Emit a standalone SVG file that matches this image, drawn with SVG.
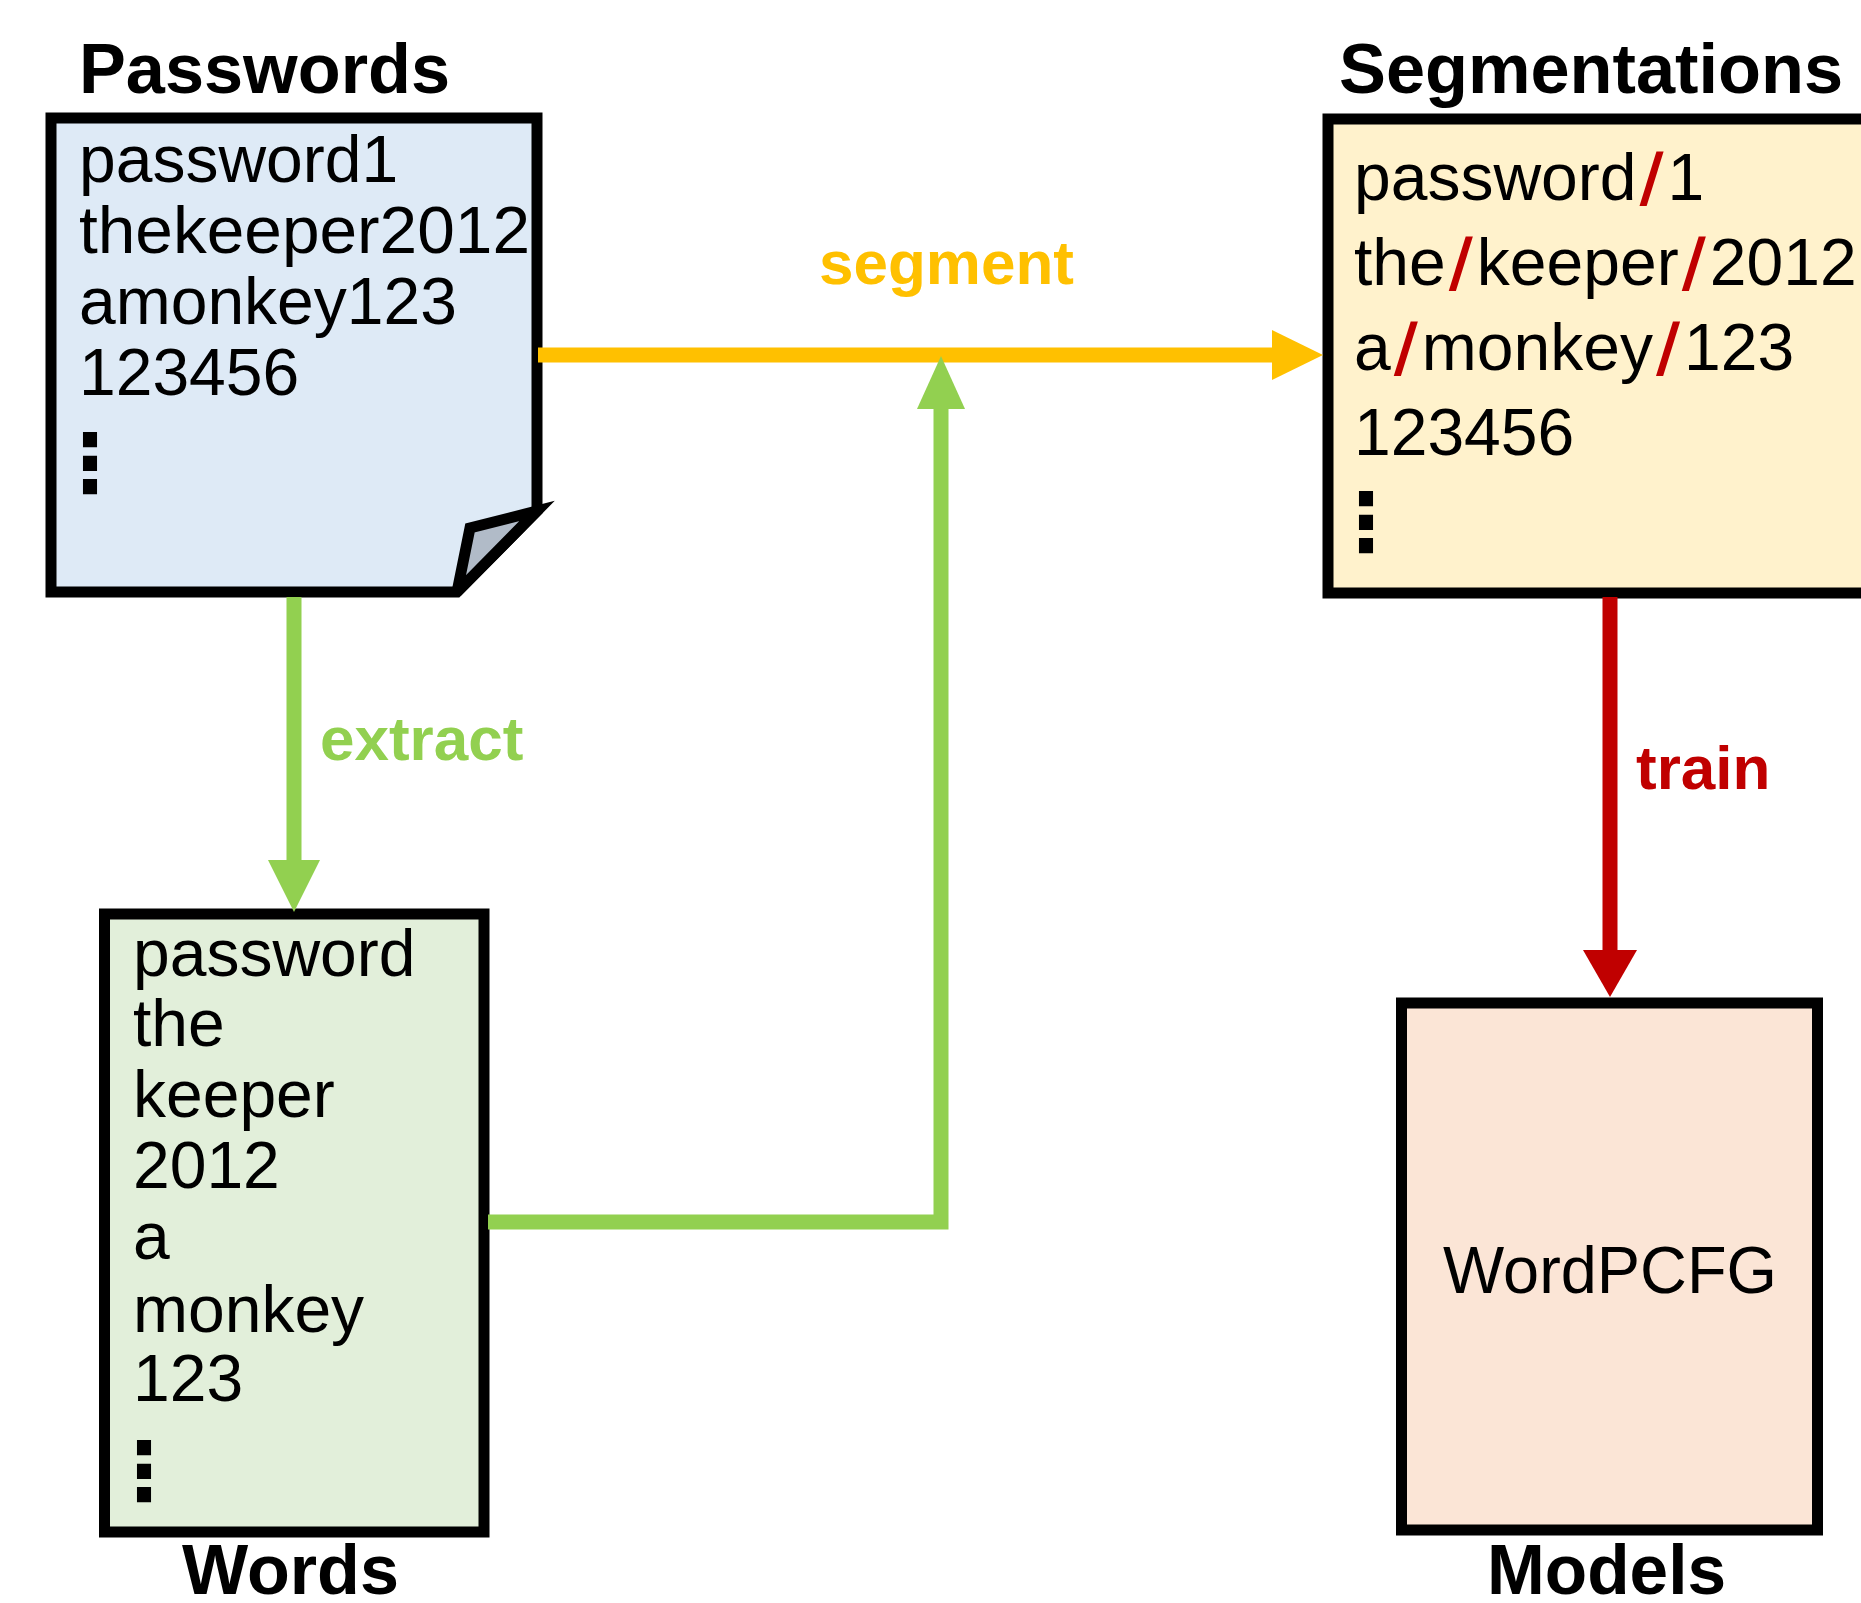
<svg xmlns="http://www.w3.org/2000/svg" width="1861" height="1603" viewBox="0 0 1861 1603">
  <style>
    .box { stroke: #000; stroke-width: 11; stroke-linejoin: miter; }
    .title { font-family: "Liberation Sans", Arial, sans-serif; font-weight: bold; font-size: 70px; fill: #000; }
    .body { font-family: "Liberation Sans", Arial, sans-serif; font-size: 66px; fill: #000; }
    .dots { font-family: "DejaVu Sans", sans-serif; font-weight: bold; font-size: 80px; fill: #000; }
    .label { font-family: "Liberation Sans", Arial, sans-serif; font-weight: bold; font-size: 62px; }
    .sl { font-family: "DejaVu Sans", sans-serif; font-weight: bold; fill: #C00000; }
    .conn { fill: none; stroke-width: 15; }
  </style>

  <rect width="1861" height="1603" fill="#fff"/>

  <!-- Passwords: page with folded corner -->
  <g id="passwords">
    <path class="box" d="M51,118 H537 V511 L457,592 H51 Z" fill="#DEEAF6"/>
    <path class="box" d="M457,592 L537,511 L470,528 L457,592" fill="#B1BBC8" stroke-linecap="butt"/>
    <text class="title" x="79" y="93" textLength="371" lengthAdjust="spacingAndGlyphs">Passwords</text>
    <text class="body" x="79" y="182">password1</text>
    <text class="body" x="79" y="253" textLength="451" lengthAdjust="spacingAndGlyphs">thekeeper2012</text>
    <text class="body" x="79" y="324">amonkey123</text>
    <text class="body" x="79" y="395">123456</text>
    <text class="dots" x="50" y="491">⋮</text>
  </g>

  <!-- Segmentations (box runs past the right edge) -->
  <g id="segmentations">
    <rect class="box" x="1328" y="119" width="600" height="474" fill="#FFF2CC"/>
    <text class="title" x="1339" y="93" textLength="504" lengthAdjust="spacingAndGlyphs">Segmentations</text>
    <text class="body" x="1354" y="200">password<tspan class="sl" dx="3">/</tspan><tspan dx="4">1</tspan></text>
    <text class="body" x="1354" y="285">the<tspan class="sl" dx="3">/</tspan><tspan dx="4">keeper</tspan><tspan class="sl" dx="3">/</tspan><tspan dx="4">2012</tspan></text>
    <text class="body" x="1354" y="370">a<tspan class="sl" dx="3">/</tspan><tspan dx="4">monkey</tspan><tspan class="sl" dx="3">/</tspan><tspan dx="4">123</tspan></text>
    <text class="body" x="1354" y="455">123456</text>
    <text class="dots" x="1326" y="550">⋮</text>
  </g>

  <!-- Words -->
  <g id="words">
    <rect class="box" x="104.5" y="914" width="379.5" height="618" fill="#E2EFDA"/>
    <text class="body" x="133" y="976">password</text>
    <text class="body" x="133" y="1046">the</text>
    <text class="body" x="133" y="1117">keeper</text>
    <text class="body" x="133" y="1188">2012</text>
    <text class="body" x="133" y="1259">a</text>
    <text class="body" x="133" y="1332">monkey</text>
    <text class="body" x="133" y="1401">123</text>
    <text class="dots" x="104" y="1499">⋮</text>
    <text class="title" x="182" y="1594" textLength="217" lengthAdjust="spacingAndGlyphs">Words</text>
  </g>

  <!-- Models -->
  <g id="models">
    <rect class="box" x="1401.5" y="1003" width="416" height="527" fill="#FBE5D6"/>
    <text class="body" x="1443" y="1293" textLength="334" lengthAdjust="spacingAndGlyphs">WordPCFG</text>
    <text class="title" x="1487" y="1594" textLength="239" lengthAdjust="spacingAndGlyphs">Models</text>
  </g>

  <!-- Connectors -->
  <g id="connectors">
    <!-- segment -->
    <line class="conn" x1="538" y1="355" x2="1274" y2="355" stroke="#FFC000"/>
    <polygon points="1272,330 1323,355 1272,380" fill="#FFC000"/>
    <text class="label" x="819" y="284" fill="#FFC000">segment</text>

    <!-- extract -->
    <line class="conn" x1="294" y1="597" x2="294" y2="862" stroke="#92D050"/>
    <polygon points="268,860 320,860 294,912" fill="#92D050"/>
    <text class="label" x="320" y="760" fill="#92D050">extract</text>

    <!-- words feed into segment -->
    <polyline class="conn" points="488,1222 941,1222 941,407" stroke="#92D050"/>
    <polygon points="917,409 965,409 941,356" fill="#92D050"/>

    <!-- train -->
    <line class="conn" x1="1610" y1="597" x2="1610" y2="952" stroke="#C00000"/>
    <polygon points="1583,950 1637,950 1610,997" fill="#C00000"/>
    <text class="label" x="1636" y="789" fill="#C00000">train</text>
  </g>
</svg>
